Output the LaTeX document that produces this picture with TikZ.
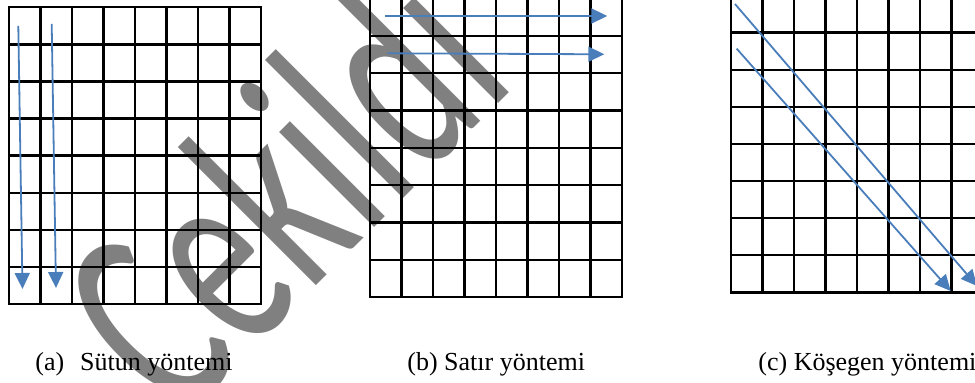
\documentclass[tikz,border=0pt]{standalone}
\usepackage{fontspec}
\setmainfont{Liberation Serif}
\newfontfamily\wmfont{Carlito}
\usepackage{xcolor}
\usepackage{tikz}
\usetikzlibrary{arrows.meta}

\definecolor{arrowblue}{HTML}{4A7EBB}
\definecolor{wmgray}{HTML}{808080}

% 8x8 cell grid: left, top, row height
\newcommand{\cellgrid}[3]{%
  \foreach \k in {1,...,7} {
    \draw[gridline] ({#1+31.5*\k},#2) -- ({#1+31.5*\k},{#2+8*#3});
    \draw[gridline] (#1,{#2+#3*\k}) -- ({#1+252},{#2+#3*\k});
  }
  \draw[gridline] (#1,#2) rectangle ({#1+252},{#2+8*#3});
}

\begin{document}
\begin{tikzpicture}[
  x=0.5pt, y=-0.5pt,
  font=\fontsize{13}{16}\selectfont, >={Triangle[length=8pt, width=7.5pt]},
  gridline/.style={draw=black, line width=1.2pt, line cap=rect},
  scan/.style={->, draw=arrowblue, fill=arrowblue, line width=0.9pt},
  caption/.style={anchor=base west, inner sep=0pt},
  watermark/.style={anchor=base west, inner sep=0pt, text=wmgray,
                    font=\wmfont\fontsize{89}{100}\selectfont,
                    rotate=45, yscale=1.58}]

\useasboundingbox (0,0) rectangle (975,383);
\clip (0,0) rectangle (975,383);

\node[watermark] (wm) at (178.5,423.5) {Çekildi};

% (a) column order
\cellgrid{9}{7.3}{37.09}
\coordinate (a1s) at (18.3,26);
\coordinate (a1e) at (22.5,289);
\coordinate (a2s) at (51.7,24);
\coordinate (a2e) at (56,288);
\draw[scan] (a1s) -- (a1e);
\draw[scan] (a2s) -- (a2e);

% (b) row order
\cellgrid{370}{-1.3}{37.3}
\coordinate (b1s) at (385,16);
\coordinate (b1e) at (607.3,16);
\coordinate (b2s) at (387.3,53.3);
\coordinate (b2e) at (604.3,54.3);
\draw[scan] (b1s) -- (b1e);
\draw[scan] (b2s) -- (b2e);

% (c) diagonal order
\cellgrid{731}{-4.4}{37.1}
\coordinate (c1s) at (735,4);
\coordinate (c1e) at (977,286);
\coordinate (c2s) at (736.7,48.7);
\coordinate (c2e) at (950.7,291);
\draw[scan] (c1s) -- (c1e);
\draw[scan] (c2s) -- (c2e);

\node[caption] (capa) at (35,371) {(a)\hspace{8pt}Sütun yöntemi};
\node[caption] (capb) at (407,371) {(b) Satır yöntemi};
\node[caption] (capc) at (758,371) {(c) Köşegen yöntemi};
\end{tikzpicture}
\end{document}
